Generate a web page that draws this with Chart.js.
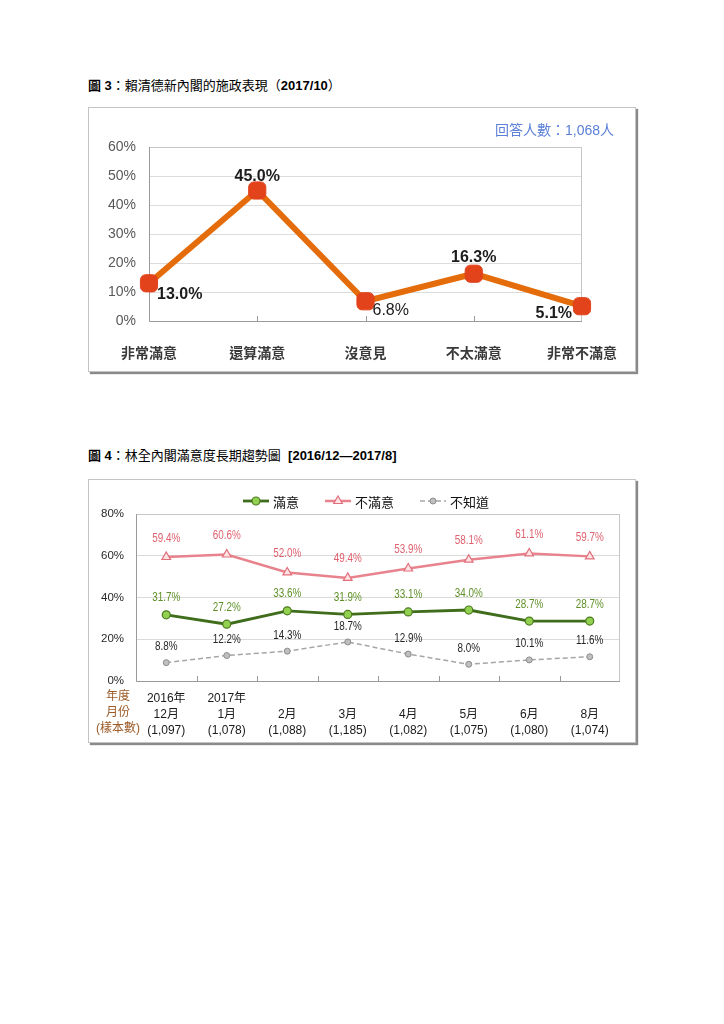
<!DOCTYPE html>
<html>
<head>
<meta charset="utf-8">
<script src="https://cdn.jsdelivr.net/npm/chart.js@4.4.0/dist/chart.umd.min.js"></script>
<style>
  body { margin: 0; background: #fff; }
  #page { position: relative; width: 724px; height: 1024px; font-family: "Liberation Sans", "Noto Sans CJK TC", sans-serif; color: #000; }
  .title { position: absolute; left: 88px; font-size: 13px; line-height: 16px; white-space: nowrap; }
  .box { position: absolute; left: 88px; width: 546px; border: 1px solid #c4c4c4; box-shadow: 2px 2px 1px #8a8a8a; background: #fff; }
  .box canvas { position: absolute; left: 0; top: 0; }
  #n3 { position: absolute; left: 495px; top: 121px; font-size: 14px; line-height: 18px; color: #5b80d8; white-space: nowrap; }
</style>
</head>
<body>
<div id="page">
  <div class="title" style="top:78px"><b>圖 3</b>：賴清德新內閣的施政表現（<b>2017/10</b>）</div>
  <div class="box" style="top:107px;height:263px">
    <canvas id="chart3" width="546" height="263"></canvas>
  </div>
  <div id="n3">回答人數：1,068人</div>

  <div class="title" style="top:448px"><b>圖 4</b>：林全內閣滿意度長期趨勢圖&nbsp;&nbsp;<b>[2016/12—2017/8]</b></div>
  <div class="box" style="top:479px;height:262px">
    <canvas id="chart4" width="546" height="262"></canvas>
  </div>
</div>

<script>
// 圖 3 data
const cats3 = ['非常滿意', '還算滿意', '沒意見', '不太滿意', '非常不滿意'];
const vals3 = [13.0, 45.0, 6.8, 16.3, 5.1];
const ticks3 = [0, 10, 20, 30, 40, 50, 60];

// 圖 4 data
const years4 = ['2016年', '2017年', '', '', '', '', '', ''];
const months4 = ['12月', '1月', '2月', '3月', '4月', '5月', '6月', '8月'];
const samples4 = ['(1,097)', '(1,078)', '(1,088)', '(1,185)', '(1,082)', '(1,075)', '(1,080)', '(1,074)'];
const satisfied = [31.7, 27.2, 33.6, 31.9, 33.1, 34.0, 28.7, 28.7];
const dissatisfied = [59.4, 60.6, 52.0, 49.4, 53.9, 58.1, 61.1, 59.7];
const unknown = [8.8, 12.2, 14.3, 18.7, 12.9, 8.0, 10.1, 11.6];
const ticks4 = [0, 20, 40, 60, 80];
const rowHeads4 = ['年度', '月份', '(樣本數)'];

Chart.defaults.font.family = '"Liberation Sans", "Noto Sans CJK TC", sans-serif';
const NUM_FONT = '"Liberation Sans", Arial, sans-serif';

// where each value label of fig 3 sits relative to its point
const place3 = [
  { align: 'left', dx: 8, dy: 11, bold: true },
  { align: 'center', dx: 0, dy: -14, bold: true },
  { align: 'left', dx: 7, dy: 9, bold: false },
  { align: 'center', dx: 0, dy: -16, bold: true },
  { align: 'right', dx: -10, dy: 7, bold: true }
];

function drawMarker(ctx, ds, x, y) {
  ctx.save();
  ctx.fillStyle = ds.pointBackgroundColor;
  ctx.strokeStyle = ds.pointBorderColor;
  ctx.lineWidth = ds.pointBorderWidth;
  ctx.setLineDash([]);
  const opts = { pointStyle: ds.pointStyle, radius: ds.pointRadius, borderWidth: ds.pointBorderWidth, rotation: 0 };
  if (Chart.helpers && Chart.helpers.drawPoint) {
    Chart.helpers.drawPoint(ctx, opts, x, y);
  } else {
    ctx.beginPath(); ctx.arc(x, y, ds.pointRadius, 0, Math.PI * 2); ctx.fill(); ctx.stroke();
  }
  ctx.restore();
}

// plot frame + small tick marks pointing up from the x axis
function framePlugin(id, between) {
  return {
    id: id,
    beforeDatasetsDraw(chart) {
      const { ctx, chartArea: a, scales: { x } } = chart;
      ctx.save();
      ctx.lineWidth = 1;
      ctx.strokeStyle = '#c6c6c6';
      ctx.beginPath();
      ctx.moveTo(a.left, a.top + 0.5); ctx.lineTo(a.right - 0.5, a.top + 0.5); ctx.lineTo(a.right - 0.5, a.bottom);
      ctx.stroke();
      ctx.strokeStyle = '#9a9a9a';
      ctx.beginPath();
      ctx.moveTo(a.left + 0.5, a.top); ctx.lineTo(a.left + 0.5, a.bottom + 0.5); ctx.lineTo(a.right, a.bottom + 0.5);
      const n = chart.data.labels.length;
      for (let i = 1; i < n; i++) {
        let px = between ? (x.getPixelForValue(i - 1) + x.getPixelForValue(i)) / 2 : x.getPixelForValue(i);
        if (!between && i === n - 1) break;
        px = Math.round(px) + 0.5;
        ctx.moveTo(px, a.bottom); ctx.lineTo(px, a.bottom - 5);
      }
      ctx.stroke();
      ctx.restore();
    }
  };
}

const labels3 = {
  id: 'labels3',
  afterDatasetsDraw(chart) {
    const ctx = chart.ctx;
    const meta = chart.getDatasetMeta(0);
    ctx.save();
    ctx.fillStyle = '#1c1c1c';
    ctx.textBaseline = 'middle';
    meta.data.forEach((pt, i) => {
      const p = place3[i];
      ctx.font = (p.bold ? 'bold ' : '') + '16px ' + NUM_FONT;
      ctx.textAlign = p.align;
      ctx.fillText(vals3[i].toFixed(1) + '%', pt.x + p.dx, pt.y + p.dy);
    });
    ctx.restore();
  }
};

new Chart(document.getElementById('chart3'), {
  type: 'line',
  data: {
    labels: cats3,
    datasets: [{
      data: vals3,
      borderColor: '#e46c0a',
      borderWidth: 6,
      pointStyle: 'rectRounded',
      pointRadius: 10,
      pointHoverRadius: 10,
      pointBackgroundColor: '#e2431b',
      pointBorderColor: '#e2431b',
      pointBorderWidth: 1,
      tension: 0,
      clip: false
    }]
  },
  options: {
    responsive: false,
    animation: false,
    layout: { padding: { top: 39, right: 53, left: 0, bottom: 0 } },
    scales: {
      x: {
        offset: false,
        grid: { display: false },
        border: { display: false },
        ticks: { padding: 15, color: '#3a3a3a', font: { size: 14, weight: 'bold', family: '"Noto Sans CJK TC", sans-serif' }, maxRotation: 0, autoSkip: false },
        afterFit(scale) { scale.height = 50; }
      },
      y: {
        min: 0,
        max: 60,
        afterBuildTicks(scale) { scale.ticks = ticks3.map(v => ({ value: v })); },
        grid: { color: '#dcdcdc', drawTicks: false },
        border: { display: false },
        ticks: { padding: 13, color: '#595959', font: { size: 14, family: NUM_FONT }, callback: v => v + '%' },
        afterFit(scale) { scale.width = 60; }
      }
    },
    plugins: { legend: { display: false }, tooltip: { enabled: false } }
  },
  plugins: [framePlugin('frame3', false), labels3]
});

// ---- 圖 4 ----
const LINE_H4 = 16;

const labels4 = {
  id: 'labels4',
  afterDatasetsDraw(chart) {
    const ctx = chart.ctx;
    ctx.save();
    ctx.font = '13px ' + NUM_FONT;
    ctx.textAlign = 'center';
    ctx.textBaseline = 'middle';
    chart.data.datasets.forEach((ds, di) => {
      const meta = chart.getDatasetMeta(di);
      ctx.fillStyle = ds.labelColor;
      meta.data.forEach((pt, i) => {
        ctx.save();
        ctx.translate(pt.x, pt.y + ds.labelDy);
        ctx.scale(0.76, 1);
        ctx.fillText(ds.data[i].toFixed(1) + '%', 0, 0);
        ctx.restore();
      });
    });
    ctx.restore();
  }
};

const legend4 = {
  id: 'legend4',
  afterDraw(chart) {
    const ctx = chart.ctx;
    ctx.save();
    ctx.font = '13px "Noto Sans CJK TC", sans-serif';
    const lineLen = 26, gap = 4, sep = 26, y = 21;
    const items = chart.data.datasets.map(ds => ({ ds, w: ctx.measureText(ds.label).width }));
    const total = items.reduce((s, it) => s + lineLen + gap + it.w, 0) + sep * (items.length - 1);
    let x = (chart.width - total) / 2 + 4;
    items.forEach(({ ds, w }) => {
      ctx.strokeStyle = ds.borderColor;
      ctx.lineWidth = ds.borderWidth;
      ctx.setLineDash(ds.borderDash || []);
      ctx.beginPath(); ctx.moveTo(x, y); ctx.lineTo(x + lineLen, y); ctx.stroke();
      ctx.setLineDash([]);
      drawMarker(ctx, ds, x + lineLen / 2, y);
      ctx.fillStyle = '#111';
      ctx.textAlign = 'left';
      ctx.textBaseline = 'middle';
      ctx.fillText(ds.label, x + lineLen + gap, y + 1);
      x += lineLen + gap + w + sep;
    });
    ctx.restore();
  }
};

const rowHeadsPlugin = {
  id: 'rowHeads',
  afterDraw(chart) {
    const { ctx, chartArea: a } = chart;
    ctx.save();
    ctx.font = '12px "Liberation Sans", "Noto Sans CJK TC", sans-serif';
    ctx.fillStyle = '#9c5b27';
    ctx.textAlign = 'center';
    ctx.textBaseline = 'middle';
    rowHeads4.forEach((t, i) => ctx.fillText(t, a.left - 18, a.bottom + 16 + i * LINE_H4));
    ctx.restore();
  }
};

new Chart(document.getElementById('chart4'), {
  type: 'line',
  data: {
    labels: months4.map((m, i) => [years4[i], m, samples4[i]]),
    datasets: [{
      label: '滿意',
      data: satisfied,
      borderColor: '#3f6d1c',
      borderWidth: 2.8,
      pointStyle: 'circle',
      pointRadius: 4,
      pointBackgroundColor: '#92d050',
      pointBorderColor: '#4b7a20',
      pointBorderWidth: 1.2,
      labelColor: '#5f9028',
      labelDy: -17,
      tension: 0,
      clip: false
    }, {
      label: '不滿意',
      data: dissatisfied,
      borderColor: '#e8838d',
      borderWidth: 2.5,
      pointStyle: 'triangle',
      pointRadius: 5,
      pointBackgroundColor: '#fde3e3',
      pointBorderColor: '#e2707c',
      pointBorderWidth: 1.2,
      labelColor: '#e0606e',
      labelDy: -19,
      tension: 0,
      clip: false
    }, {
      label: '不知道',
      data: unknown,
      borderColor: '#a6a6a6',
      borderWidth: 1.5,
      borderDash: [5, 3],
      pointStyle: 'circle',
      pointRadius: 3,
      pointBackgroundColor: '#bfbfbf',
      pointBorderColor: '#8c8c8c',
      pointBorderWidth: 1,
      labelColor: '#262626',
      labelDy: -16,
      tension: 0,
      clip: false
    }]
  },
  options: {
    responsive: false,
    animation: false,
    layout: { padding: { top: 34, right: 15, left: 0, bottom: 0 } },
    scales: {
      x: {
        offset: true,
        grid: { display: false },
        border: { display: false },
        ticks: { padding: 2, color: '#1a1a1a', font: { size: 12, lineHeight: LINE_H4 / 12 }, maxRotation: 0, autoSkip: false },
        afterFit(scale) { scale.height = 61; }
      },
      y: {
        min: 0,
        max: 80,
        afterBuildTicks(scale) { scale.ticks = ticks4.map(v => ({ value: v })); },
        grid: { color: '#dadada', drawTicks: false },
        border: { display: false },
        ticks: { padding: 12, color: '#2a2a2a', font: { size: 11.5, family: NUM_FONT }, callback: v => v + '%' },
        afterFit(scale) { scale.width = 47; }
      }
    },
    plugins: { legend: { display: false }, tooltip: { enabled: false } }
  },
  plugins: [framePlugin('frame4', true), labels4, legend4, rowHeadsPlugin]
});
</script>
</body>
</html>
